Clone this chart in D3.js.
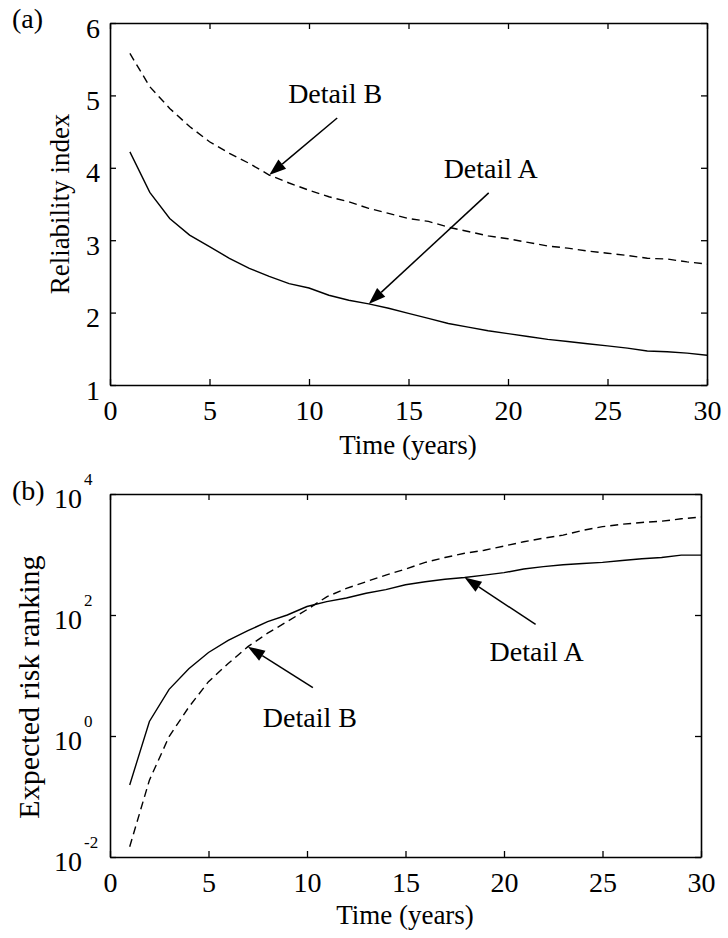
<!DOCTYPE html>
<html>
<head>
<meta charset="utf-8">
<script src="https://cdn.jsdelivr.net/npm/d3@7"></script>
<style>
  body { margin: 0; background: #fff; }
  svg text { font-family: 'Liberation Serif', 'DejaVu Serif', serif !important; fill: #000; }
</style>
</head>
<body>
<svg id="chart" width="728" height="938"></svg>
<script>
const years = [1, 2, 3, 4, 5, 6, 7, 8, 9, 10, 11, 12, 13, 14, 15,
    16, 17, 18, 19, 20, 21, 22, 23, 24, 25, 26, 27, 28, 29, 30];

// panel (a): reliability index
const reliabilityA = [4.22, 3.66, 3.30, 3.07, 2.91, 2.75, 2.61, 2.50, 2.40, 2.34, 2.24, 2.17, 2.12, 2.06, 1.99,
    1.92, 1.85, 1.80, 1.75, 1.71, 1.67, 1.63, 1.60, 1.57, 1.54, 1.51, 1.47, 1.46, 1.44, 1.41];
const reliabilityB = [5.58, 5.12, 4.82, 4.57, 4.36, 4.20, 4.06, 3.90, 3.79, 3.69, 3.60, 3.53, 3.44, 3.37, 3.30,
    3.26, 3.18, 3.12, 3.06, 3.02, 2.97, 2.92, 2.89, 2.85, 2.82, 2.79, 2.75, 2.74, 2.70, 2.67];

// panel (b): expected risk ranking (log axis)
const riskA = [0.155, 1.74, 5.9, 12.9, 24, 38, 55, 78, 100, 138, 166, 191, 229, 263, 316,
    355, 389, 417, 457, 501, 575, 631, 676, 708, 741, 794, 851, 891, 977, 977];
const riskB = [0.0148, 0.186, 0.98, 3.0, 7.9, 15.8, 30, 50, 78, 123, 200, 275, 355, 457, 575,
    741, 891, 1047, 1175, 1380, 1622, 1862, 2089, 2512, 2884, 3162, 3388, 3548, 3890, 4169];

const xTicks = [0, 5, 10, 15, 20, 25, 30];
const relTicks = [1, 2, 3, 4, 5, 6];
const riskExponents = [-2, 0, 2, 4];

const FONT = 27;
const TICK_FONT = 28;
const SERIF = "'Liberation Serif', 'DejaVu Serif', serif";
const svg = d3.select("#chart").attr("font-family", SERIF);

function drawFrame(g, x, y, yTicks, labelLeft) {
    const [x0, x1] = x.range();
    const [y0, y1] = y.range();

    // bottom axis with inward ticks and labels
    const bottom = g.append("g").attr("transform", `translate(0,${y0})`)
        .call(d3.axisBottom(x).tickValues(xTicks).tickSizeInner(-6).tickSizeOuter(0).tickPadding(15));
    bottom.attr("font-family", SERIF).selectAll("text").attr("font-size", TICK_FONT);

    g.append("g").attr("transform", `translate(0,${y1})`)
        .call(d3.axisTop(x).tickValues(xTicks).tickSizeInner(-6).tickSizeOuter(0).tickFormat(""));

    const left = g.append("g").attr("transform", `translate(${x0},0)`)
        .call(d3.axisLeft(y).tickValues(yTicks).tickSizeInner(-6).tickSizeOuter(0).tickPadding(10)
            .tickFormat(labelLeft ? d3.format("d") : ""));
    left.attr("font-family", SERIF).selectAll("text").attr("font-size", TICK_FONT).attr("dy", 14);

    g.append("g").attr("transform", `translate(${x1},0)`)
        .call(d3.axisRight(y).tickValues(yTicks).tickSizeInner(-6).tickSizeOuter(0).tickFormat(""));

    g.selectAll(".domain").attr("stroke", "#000").attr("stroke-width", 1.6);
    g.selectAll(".tick line").attr("stroke", "#000").attr("stroke-width", 1.3);
}

function drawArrow(g, tip, tail) {
    const ang = Math.atan2(tip[1] - tail[1], tip[0] - tail[0]);
    const len = 17, half = 6;
    const base = [tip[0] - len * Math.cos(ang), tip[1] - len * Math.sin(ang)];
    g.append("line")
        .attr("x1", tail[0]).attr("y1", tail[1])
        .attr("x2", base[0]).attr("y2", base[1])
        .attr("stroke", "#000").attr("stroke-width", 1.5);
    const p1 = [base[0] + half * Math.sin(ang), base[1] - half * Math.cos(ang)];
    const p2 = [base[0] - half * Math.sin(ang), base[1] + half * Math.cos(ang)];
    g.append("path")
        .attr("d", `M${tip[0]},${tip[1]}L${p1[0]},${p1[1]}L${p2[0]},${p2[1]}Z`)
        .attr("fill", "#000");
}

function annotate(g, x, y, series, year, label, tail, text) {
    const i = years.indexOf(year);
    const tip = [x(year), y(series[i])];
    drawArrow(g, tip, [tip[0] + tail[0], tip[1] + tail[1]]);
    g.append("text")
        .attr("x", tip[0] + text[0]).attr("y", tip[1] + text[1])
        .attr("text-anchor", "middle").attr("font-size", 28)
        .text(label);
}

function drawLines(g, x, y, a, b) {
    const line = d3.line().x((d, i) => x(years[i])).y(d => y(d));
    g.append("path").datum(a).attr("d", line)
        .attr("fill", "none").attr("stroke", "#000").attr("stroke-width", 1.4);
    g.append("path").datum(b).attr("d", line)
        .attr("fill", "none").attr("stroke", "#000").attr("stroke-width", 1.4)
        .attr("stroke-dasharray", "8,5");
}

// ---- panel (a)
const xa = d3.scaleLinear().domain([0, 30]).range([110, 707]);
const ya = d3.scaleLinear().domain([1, 6]).range([385, 23]);
const ga = svg.append("g");
drawLines(ga, xa, ya, reliabilityA, reliabilityB);
drawFrame(ga, xa, ya, relTicks, true);
annotate(ga, xa, ya, reliabilityB, 8, "Detail B", [68, -57], [66, -72]);
annotate(ga, xa, ya, reliabilityA, 13, "Detail A", [120, -111], [122, -126]);

ga.append("text").attr("x", 408).attr("y", 454).attr("text-anchor", "middle")
    .attr("font-size", FONT).text("Time (years)");
ga.append("text").attr("transform", "translate(69,204) rotate(-90)").attr("text-anchor", "middle")
    .attr("font-size", FONT).text("Reliability index");
ga.append("text").attr("x", 12).attr("y", 28).attr("font-size", TICK_FONT).text("(a)");

// ---- panel (b)
const xb = d3.scaleLinear().domain([0, 30]).range([110, 701]);
const yb = d3.scaleLog().domain([1e-2, 1e4]).range([857, 494]);
const gb = svg.append("g");
drawLines(gb, xb, yb, riskA, riskB);
const riskTicks = riskExponents.map(e => Math.pow(10, e));
drawFrame(gb, xb, yb, riskTicks, false);

// log tick labels as 10 with superscript exponent
riskExponents.forEach(e => {
    const ty = yb(Math.pow(10, e));
    gb.append("text").attr("x", 82).attr("y", ty + 14).attr("text-anchor", "end")
        .attr("font-size", TICK_FONT).text("10");
    gb.append("text").attr("x", 84).attr("y", ty - 9)
        .attr("font-size", 17).text(e);
});

annotate(gb, xb, yb, riskA, 18, "Detail A", [71, 47], [72, 84]);
annotate(gb, xb, yb, riskB, 7, "Detail B", [65, 41], [62, 80]);

gb.append("text").attr("x", 405).attr("y", 924).attr("text-anchor", "middle")
    .attr("font-size", FONT).text("Time (years)");
gb.append("text").attr("transform", "translate(39,687) rotate(-90)").attr("text-anchor", "middle")
    .attr("font-size", 30).text("Expected risk ranking");
gb.append("text").attr("x", 12).attr("y", 500).attr("font-size", TICK_FONT).text("(b)");
</script>
</body>
</html>
